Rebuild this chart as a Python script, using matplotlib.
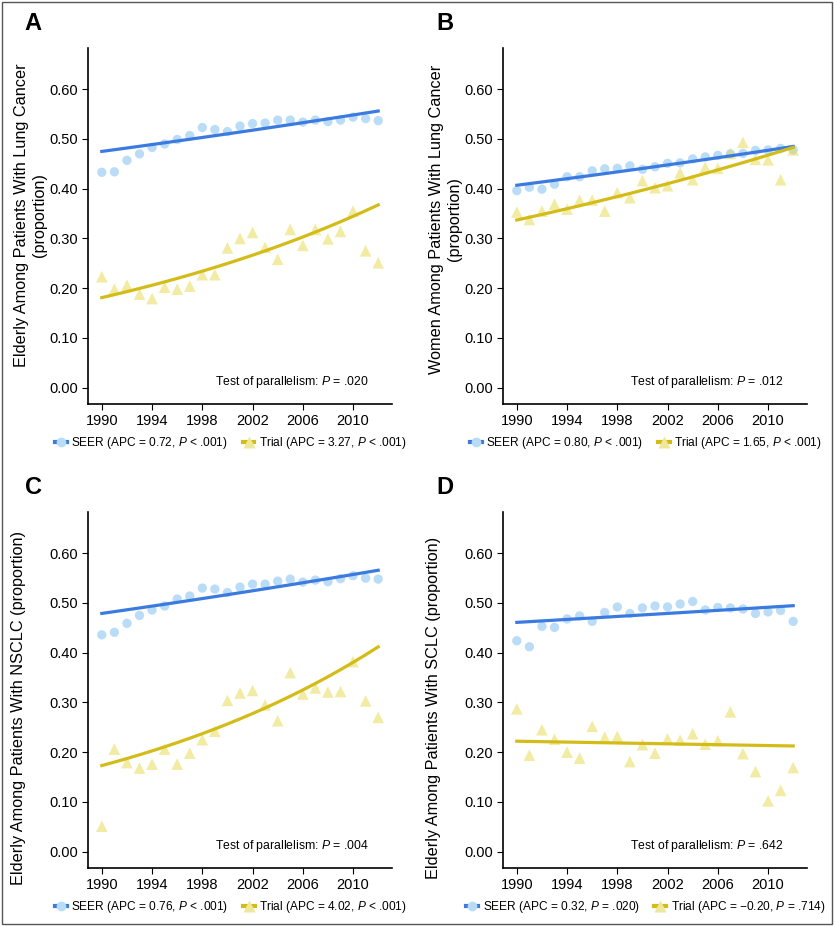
import numpy as np
import matplotlib.pyplot as plt
from matplotlib.lines import Line2D
from matplotlib.patches import Rectangle

plt.rcParams['font.family'] = ['Liberation Sans', 'DejaVu Sans']
plt.rcParams['mathtext.fontset'] = 'custom'
plt.rcParams['mathtext.it'] = 'Liberation Sans:italic'
plt.rcParams['mathtext.rm'] = 'Liberation Sans'

years = np.arange(1990, 2013)

# panel A: elderly, lung cancer
seer_a = [0.433, 0.434, 0.457, 0.470, 0.483, 0.490, 0.499, 0.507, 0.523, 0.519, 0.515, 0.526,
          0.531, 0.532, 0.538, 0.538, 0.534, 0.538, 0.535, 0.538, 0.544, 0.541, 0.537]
trial_a = [0.223, 0.198, 0.206, 0.188, 0.179, 0.202, 0.198, 0.204, 0.227, 0.227, 0.281, 0.300,
           0.312, 0.282, 0.258, 0.318, 0.286, 0.318, 0.299, 0.314, 0.355, 0.275, 0.251]
# panel B: women, lung cancer
seer_b = [0.396, 0.403, 0.399, 0.409, 0.424, 0.424, 0.436, 0.440, 0.441, 0.446, 0.439, 0.444,
          0.451, 0.452, 0.460, 0.464, 0.467, 0.470, 0.471, 0.477, 0.478, 0.481, 0.478]
trial_b = [0.353, 0.338, 0.355, 0.369, 0.359, 0.377, 0.377, 0.355, 0.392, 0.382, 0.416, 0.402,
           0.406, 0.432, 0.418, 0.443, 0.441, 0.471, 0.493, 0.459, 0.458, 0.418, 0.478]
# panel C: elderly, NSCLC
seer_c = [0.436, 0.441, 0.459, 0.475, 0.486, 0.494, 0.508, 0.514, 0.530, 0.528, 0.521, 0.532,
          0.538, 0.538, 0.544, 0.548, 0.542, 0.546, 0.543, 0.549, 0.555, 0.550, 0.548]
trial_c = [0.051, 0.206, 0.179, 0.168, 0.176, 0.206, 0.176, 0.198, 0.225, 0.242, 0.304, 0.319,
           0.324, 0.295, 0.263, 0.360, 0.317, 0.329, 0.321, 0.322, 0.382, 0.303, 0.270]
# panel D: elderly, SCLC
seer_d = [0.424, 0.412, 0.453, 0.451, 0.468, 0.474, 0.463, 0.481, 0.492, 0.479, 0.490, 0.494,
          0.492, 0.498, 0.503, 0.486, 0.491, 0.490, 0.488, 0.479, 0.482, 0.485, 0.463]
trial_d = [0.287, 0.194, 0.245, 0.226, 0.200, 0.188, 0.252, 0.230, 0.232, 0.181, 0.215, 0.198,
           0.227, 0.224, 0.237, 0.216, 0.223, 0.281, 0.197, 0.161, 0.102, 0.123, 0.169]

# fitted trend: value in 1990 and annual percent change
seer_fit0 = [0.475, 0.407, 0.479, 0.461]
seer_apc = [0.72, 0.80, 0.76, 0.32]
trial_fit0 = [0.181, 0.337, 0.173, 0.222]
trial_apc = [3.27, 1.65, 4.02, -0.20]

letters = ['A', 'B', 'C', 'D']
ylabels = ['Elderly Among Patients With Lung Cancer\n(proportion)',
           'Women Among Patients With Lung Cancer\n(proportion)',
           'Elderly Among Patients With NSCLC (proportion)',
           'Elderly Among Patients With SCLC (proportion)']
seer_labels = ['SEER (APC = 0.72, $P$ < .001)', 'SEER (APC = 0.80, $P$ < .001)',
               'SEER (APC = 0.76, $P$ < .001)', 'SEER (APC = 0.32, $P$ = .020)']
trial_labels = ['Trial (APC = 3.27, $P$ < .001)', 'Trial (APC = 1.65, $P$ < .001)',
                'Trial (APC = 4.02, $P$ < .001)', 'Trial (APC = \u22120.20, $P$ = .714)']
parallel_p = ['.020', '.012', '.004', '.642']

seer_all = [seer_a, seer_b, seer_c, seer_d]
trial_all = [trial_a, trial_b, trial_c, trial_d]

blue_dot = '#8cc6f2'
blue_line = '#3b7be0'
yel_dot = '#e8dc5a'
yel_line = '#d4bc18'

W, H = 834, 926
fig = plt.figure(figsize=(W / 100, H / 100), dpi=100)
fig.patches.append(Rectangle((0.002, 0.002), 0.996, 0.996, transform=fig.transFigure,
                             fill=False, edgecolor='#555555', lw=1))

lefts = [88, 503, 88, 503]
tops = [48, 48, 512, 512]
ylab_y = [0.53, 0.52, 0.45, 0.45]
ylab_x = [-0.135, -0.135, -0.205, -0.203]
letter_pos = [(33, 23), (445, 23), (33, 488), (445, 488)]

for i in range(4):
    ax = fig.add_axes([lefts[i] / W, 1 - (tops[i] + 356) / H, 304 / W, 356 / H])
    ax.scatter(years, seer_all[i], s=45, color=blue_dot, alpha=0.6, edgecolors='none', zorder=2)
    ax.scatter(years, trial_all[i], s=70, marker='^', color=yel_dot, alpha=0.55,
               edgecolors='none', zorder=2)
    t = years - years[0]
    ax.plot(years, seer_fit0[i] * (1 + seer_apc[i] / 100) ** t, color=blue_line, lw=2.3, zorder=3)
    ax.plot(years, trial_fit0[i] * (1 + trial_apc[i] / 100) ** t, color=yel_line, lw=2.3, zorder=3)

    ax.set_xlim(1988.9, 2013.1)
    ax.set_ylim(-0.033, 0.683)
    ax.set_xticks([1990, 1994, 1998, 2002, 2006, 2010])
    ax.set_yticks([0, 0.1, 0.2, 0.3, 0.4, 0.5, 0.6])
    ax.set_yticklabels(['0.00', '0.10', '0.20', '0.30', '0.40', '0.50', '0.60'])
    ax.spines['top'].set_visible(False)
    ax.spines['right'].set_visible(False)
    ax.spines['left'].set_linewidth(1.2)
    ax.spines['bottom'].set_linewidth(1.2)
    ax.tick_params(labelsize=10.5, length=4, width=0.8, pad=3)
    ax.set_ylabel(ylabels[i], fontsize=11.7, linespacing=1.25)
    ax.yaxis.set_label_coords(ylab_x[i], ylab_y[i])

    ax.text(0.924, 0.062, 'Test of parallelism: $P$ = ' + parallel_p[i],
            transform=ax.transAxes, ha='right', va='center', fontsize=8.8)

    handles = [Line2D([], [], color=blue_line, lw=3, marker='o', ms=7,
                      mfc='#b8dcf6', mec='none'),
               Line2D([], [], color=yel_line, lw=3, marker='^', ms=8,
                      mfc='#efe89a', mec='none')]
    ax.legend(handles, [seer_labels[i], trial_labels[i]], loc='center',
              bbox_to_anchor=(0.47, -0.11), ncol=2, frameon=False, fontsize=8.6,
              handlelength=1.0, handletextpad=0.4, columnspacing=1.2, numpoints=1)

    fig.text(letter_pos[i][0] / W, 1 - letter_pos[i][1] / H, letters[i],
             fontsize=17, fontweight='bold', ha='center', va='center')

fig.savefig('out.png', dpi=100)
